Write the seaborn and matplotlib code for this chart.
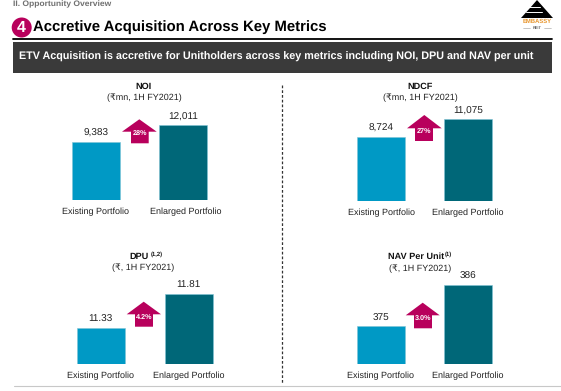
import matplotlib
matplotlib.use("Agg")
import matplotlib.pyplot as plt
import matplotlib.transforms as mtrans
import seaborn as sns
import pandas as pd
from matplotlib.patches import Polygon, Rectangle, Circle

sns.set_theme(style="white")
plt.rcParams['font.family'] = ['Liberation Sans', 'DejaVu Sans']
plt.rcParams['text.hinting'] = 'no_hinting'
plt.rcParams['text.hinting_factor'] = 8

W, H = 561, 391
categories = ["Existing Portfolio", "Enlarged Portfolio"]
noi = [9383, 12011]
ndcf = [8724, 11075]
dpu = [11.33, 11.81]
nav = [375, 386]
noi_labels = ["9,383", "12,011"]
ndcf_labels = ["8,724", "11,075"]
dpu_labels = ["11.33", "11.81"]
nav_labels = ["375", "386"]
colors = ["#0099C5", "#006778"]
MAGENTA = "#B8005C"
GREY = "#222222"

fig = plt.figure(figsize=(W / 100, H / 100), dpi=100, facecolor="white")
bg = fig.add_axes([0, 0, 1, 1], zorder=0)
bg.set_xlim(0, W); bg.set_ylim(H, 0); bg.axis("off")
top = fig.add_axes([0, 0, 1, 1], zorder=5)
top.set_xlim(0, W); top.set_ylim(H, 0); top.axis("off"); top.patch.set_alpha(0)


def panel(vals, labels, x0, x1, ybottom, ytop_px, base, shift2=0):
    """x0/x1: bar centres in px; ybottom/ytop_px: px of base and of the larger value."""
    unit = x1 - x0
    rect = [(x0 - unit / 2) / W, 1 - ybottom / H, 2 * unit / W, (ybottom - ytop_px) / H]
    ax = fig.add_axes(rect, zorder=2)
    ax.patch.set_alpha(0)
    df = pd.DataFrame({"cat": categories, "val": vals})
    sns.barplot(data=df, x="cat", y="val", hue="cat", palette=colors, legend=False, saturation=1,
                width=48 / unit, ax=ax, edgecolor="#7FC4D6", linewidth=0.4)
    ax.set_xlim(-0.5, 1.5)
    ax.set_ylim(base, max(vals))
    ax.set_xlabel(""); ax.set_ylabel(""); ax.set_yticks([])
    ax.tick_params(axis="x", length=0, pad=5.6, labelsize=6.5, labelcolor=GREY)
    sns.despine(ax=ax, left=True, bottom=True)
    for c, lab in zip(ax.containers, [[l] for l in labels]):
        ax.bar_label(c, labels=lab, padding=2.6, fontsize=7.2, color=GREY)
    if shift2:
        lbl = ax.get_xticklabels()[1]
        lbl.set_transform(lbl.get_transform() + mtrans.ScaledTranslation(shift2 / 100, 0, fig.dpi_scale_trans))
    return ax


panel(noi, noi_labels, 95.7, 183.3, 200, 125.3, 0, shift2=2.7)
panel(ndcf, ndcf_labels, 381, 468, 200.7, 119.3, 0)
panel(dpu, dpu_labels, 100.7, 188.7, 364.3, 293.7, 10.81)
panel(nav, nav_labels, 380.7, 468, 364.3, 285, 364.8)


def arrow(tipx, tipy, winy, wl, wr, sl, sr, by, label):
    top.add_patch(Polygon([(tipx, tipy), (wr, winy), (sr, winy), (sr, by), (sl, by), (sl, winy), (wl, winy)],
                          closed=True, fc=MAGENTA, ec="none"))
    top.text((sl + sr) / 2, by - 10, label, color="white", fontsize=5.2, fontweight="bold",
             ha="center", va="center")


arrow(139.3, 119.3, 131.7, 122, 156.7, 131, 148.7, 143.3, "28%")
arrow(424.3, 115, 128.3, 407, 441.7, 415, 433, 141, "27%")
arrow(143.7, 301.7, 314.3, 126.7, 161, 135, 153, 326.7, "4.2%")
arrow(422.7, 302.7, 315.3, 405.7, 439.7, 414, 432, 328.3, "3.0%")


def heading(cx, cx2, y1, y2, title, sub, sup=None, supx=None):
    top.text(cx, y1, title, fontsize=6.6, fontweight="bold", color="#111111", ha="center", va="center")
    top.text(cx2, y2, sub, fontsize=6.45, color=GREY, ha="center", va="center")
    if sup:
        top.text(supx, y1 - 2.4, sup, fontsize=4.2, fontweight="bold", color="#111111", ha="left", va="center")


heading(143.3, 144, 87, 98, "NOI", "(₹mn, 1H FY2021)")
heading(420.3, 420, 87, 98, "NDCF", "(₹mn, 1H FY2021)")
heading(139, 143.5, 256.5, 267.5, "DPU", "(₹, 1H FY2021)", "(1,2)", 150.5)
heading(416.3, 420, 257, 268.5, "NAV Per Unit", "(₹, 1H FY2021)", "(1)", 445)

# page furniture
bg.text(13, 4.5, "II. Opportunity Overview", fontsize=6.1, fontweight="bold", color="#707070", va="center")
bg.add_patch(Circle((21.7, 27.5), 10, fc=MAGENTA, ec="none"))
bg.text(21.7, 27.8, "4", color="white", fontsize=11.5, fontweight="bold", ha="center", va="center")
bg.text(33.5, 27.5, "Accretive Acquisition Across Key Metrics", fontsize=10.7, fontweight="bold",
        color="black", va="center")
bg.plot([13.5, 552], [39.3, 39.3], color="black", lw=1.3)
bg.add_patch(Rectangle((13.5, 41.5), 538.5, 31.5, fc="#3A3A3A", ec="none"))
bg.text(19, 57.3, "ETV Acquisition is accretive for Unitholders across key metrics including NOI, DPU and NAV per unit",
        color="white", fontsize=7.73, fontweight="bold", va="center")
bg.plot([282, 282], [85, 384], color="#333333", lw=0.9, ls=(0, (2.2, 1.6)))
bg.plot([14, 561], [386, 386], color="#C8C8C8", lw=0.8)

# logo
bg.add_patch(Polygon([(537, 0), (553, 18), (521, 18), (530, 8)], closed=True, fc="black", ec="none"))
bg.plot([528, 540], [7, 7], color="white", lw=0.7)
bg.plot([526, 542], [12, 12], color="white", lw=0.7)
bg.text(537, 21.7, "EMBASSY", color="#E8962E", fontsize=4.2, fontweight="bold", ha="center", va="center")
bg.text(537, 27.5, "REIT", color="#666666", fontsize=2.8, fontweight="bold", ha="center", va="center")
bg.plot([523, 530], [27.5, 27.5], color="#999999", lw=0.4)
bg.plot([544, 551], [27.5, 27.5], color="#999999", lw=0.4)

fig.savefig("out.png", dpi=100, facecolor="white")
